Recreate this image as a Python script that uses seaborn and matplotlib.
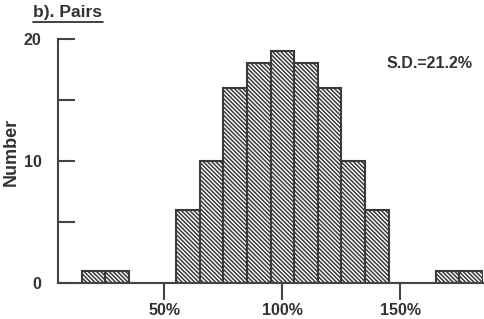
import pandas as pd
import seaborn as sns
import matplotlib.pyplot as plt

# bin centres (%) and counts
bin_centers = [20, 30, 60, 70, 80, 90, 100, 110, 120, 130, 140, 170, 180]
counts = [1, 1, 6, 10, 16, 18, 19, 18, 16, 10, 6, 1, 1]
x_ticks = [50, 100, 150]
x_tick_labels = ['50%', '100%', '150%']
y_ticks = [0, 10, 20]

df = pd.DataFrame({'ratio': bin_centers, 'n': counts})

sns.set_style('ticks')
plt.rcParams['font.family'] = ['Liberation Sans', 'DejaVu Sans']
plt.rcParams['hatch.color'] = '#333333'
plt.rcParams['hatch.linewidth'] = 1.1

fig = plt.figure(figsize=(4.84, 3.19), dpi=100)
ax = fig.add_axes([0.12, 0.113, 0.878, 0.765])

sns.histplot(data=df, x='ratio', weights='n', binwidth=10, binrange=(15, 185),
             ax=ax, color='white', edgecolor='#3a3a3a', linewidth=1.5, alpha=1,
             hatch='\\\\\\\\\\\\\\\\')

ax.set_xlim(5, 185)
ax.set_ylim(0, 20)
ax.set_xticks(x_ticks)
ax.set_xticklabels(x_tick_labels)
ax.set_yticks(y_ticks)
ax.set_yticks([5, 15], minor=True)
ax.set_xlabel('')
ax.set_ylabel('Number', fontsize=13, fontweight='bold', color='#333333')
ax.yaxis.set_label_coords(-0.09, 0.535)

ax.tick_params(axis='y', which='both', direction='in', length=12, width=1.5,
               color='#444444', labelsize=11.5, labelcolor='#333333', pad=12)
ax.tick_params(axis='x', direction='out', length=12, width=1.5,
               color='#444444', labelsize=11.5, labelcolor='#333333', pad=2.5)
for lab in ax.get_xticklabels() + ax.get_yticklabels():
    lab.set_fontweight('bold')

sns.despine(ax=ax)
ax.spines['left'].set_linewidth(1.5)
ax.spines['bottom'].set_linewidth(1.5)
ax.spines['left'].set_color('#444444')
ax.spines['bottom'].set_color('#444444')

fig.text(0.068, 0.962, 'b). Pairs', fontsize=12.5, fontweight='bold',
         color='#333333', va='center')
fig.add_artist(plt.Line2D([0.068, 0.212], [0.93, 0.93], color='#333333', lw=1.3))
ax.text(0.975, 0.9, 'S.D.=21.2%', transform=ax.transAxes, fontsize=11.5,
        fontweight='bold', color='#333333', ha='right', va='center')

fig.savefig('out.png', dpi=100)
